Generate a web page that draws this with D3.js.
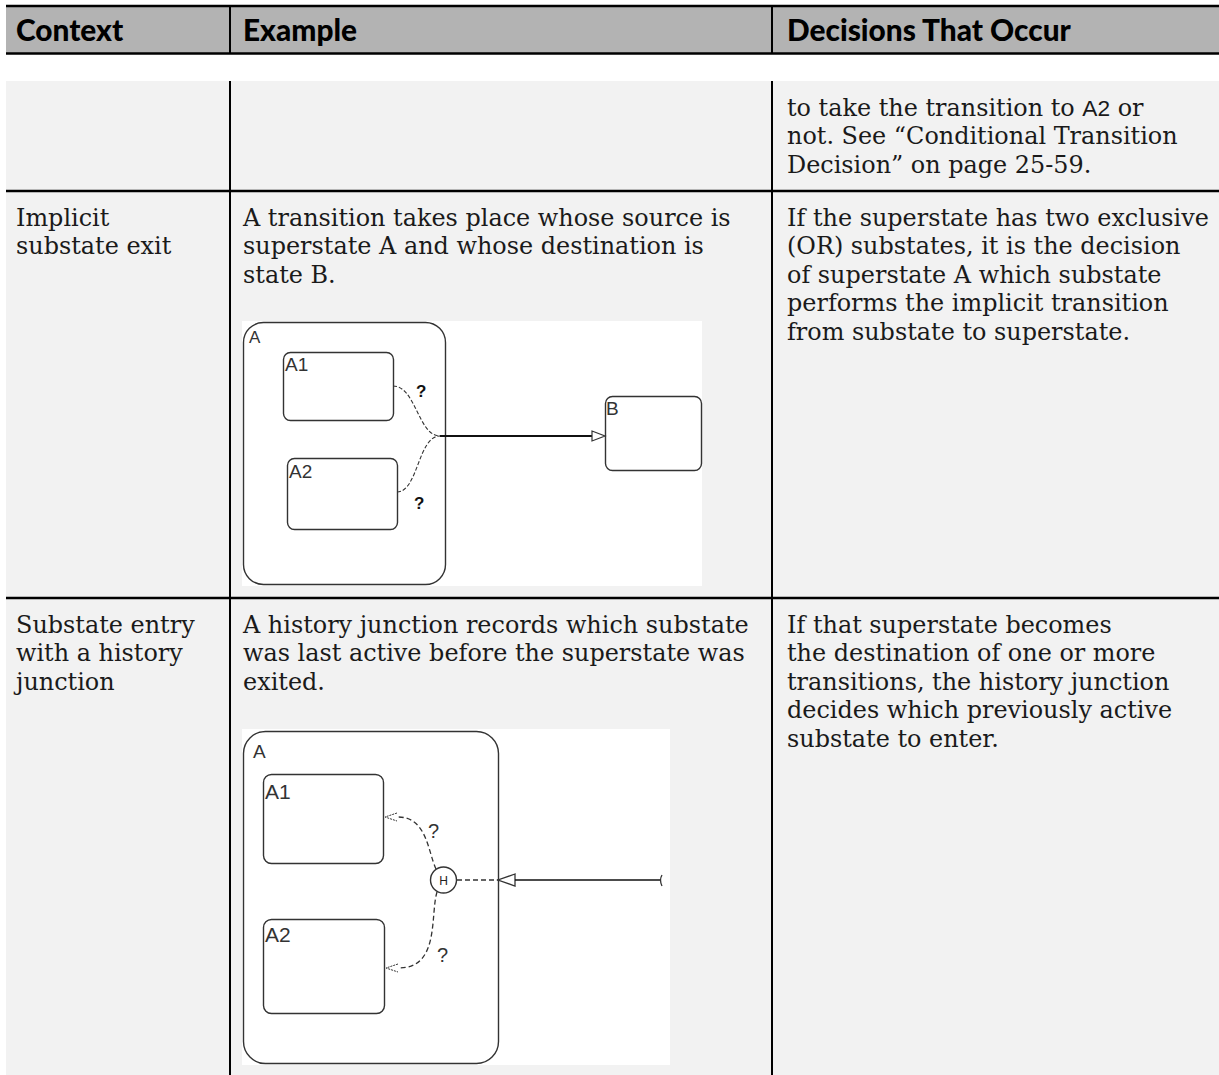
<!DOCTYPE html>
<html><head><meta charset="utf-8">
<script src="https://cdn.jsdelivr.net/npm/d3@7"></script>
<style>html,body{margin:0;padding:0;background:#fff;}svg{display:block;}</style>
</head><body>
<script>
// ---------- data ----------
const headers = ["Context", "Example", "Decisions That Occur"];
const contextText = [
  [],
  ["Implicit", "substate exit"],
  ["Substate entry", "with a history", "junction"]
];
const exampleText = [
  [],
  ["A transition takes place whose source is", "superstate A and whose destination is", "state B."],
  ["A history junction records which substate", "was last active before the superstate was", "exited."]
];
const decisionText = [
  ["to take the transition to [A2] or", "not.  See \u201cConditional Transition", "Decision\u201d on page 25-59."],
  ["If the superstate has two exclusive", "(OR) substates, it is the decision", "of superstate A which substate", "performs the implicit transition", "from substate to superstate."],
  ["If that superstate becomes", "the destination of one or more", "transitions, the history junction", "decides which previously active", "substate to enter."]
];
const exitStates = ["A", "A1", "A2", "B"];
const historyStates = ["A", "A1", "A2"];
const questionMark = "?";
const historyLabel = "H";

// ---------- layout ----------
const W = 1219, H = 1075;
const svg = d3.select("body").append("svg").attr("width", W).attr("height", H);

const colX = d3.scaleOrdinal().domain(headers).range([6, 230, 772]);
const textX = d3.scaleOrdinal().domain(headers).range([16, 243, 787]);
const rowTop = [81, 191, 598];

const serif = "'DejaVu Serif', 'Liberation Serif', serif";
const sans = "'Liberation Sans', Arial, sans-serif";
const headFont = "'Lato', 'Open Sans', sans-serif";

// fit font sizes to reference widths
function fit(family, weight, str, target) {
  const p = svg.append("text").attr("font-family", family).attr("font-weight", weight).attr("font-size", 20).text(str);
  const s = 20 * target / p.node().getComputedTextLength();
  p.remove();
  return s;
}
const serifSize = Math.min(fit(serif, 400, "A transition takes place whose source is", 509),
                           fit(serif, 400, "If the superstate has two exclusive", 422));
const headSize = fit(headFont, 900, "Decisions That Occur", 284);

// header
svg.append("rect").attr("x", 6).attr("y", 6).attr("width", W - 6).attr("height", 48).attr("fill", "#b3b3b3");
svg.append("line").attr("x1", 6).attr("x2", W).attr("y1", 6).attr("y2", 6).attr("stroke", "#000").attr("stroke-width", 2.5);
svg.append("line").attr("x1", 6).attr("x2", W).attr("y1", 53.5).attr("y2", 53.5).attr("stroke", "#000").attr("stroke-width", 2.5);
svg.selectAll("line.hsep").data(headers.slice(1)).join("line").attr("class", "hsep")
  .attr("x1", d => colX(d)).attr("x2", d => colX(d)).attr("y1", 6).attr("y2", 53)
  .attr("stroke", "#000").attr("stroke-width", 2);
svg.selectAll("text.head").data(headers).join("text").attr("class", "head")
  .attr("x", d => textX(d)).attr("y", 41)
  .attr("font-family", headFont).attr("font-weight", 900).attr("font-size", headSize)
  .attr("fill", "#000").text(d => d);

// body
svg.append("rect").attr("x", 6).attr("y", 81).attr("width", W - 6).attr("height", H - 81).attr("fill", "#f2f2f2");
svg.selectAll("line.vsep").data(headers.slice(1)).join("line").attr("class", "vsep")
  .attr("x1", d => colX(d)).attr("x2", d => colX(d)).attr("y1", 81).attr("y2", H)
  .attr("stroke", "#000").attr("stroke-width", 2);
svg.selectAll("line.rsep").data(rowTop.slice(1)).join("line").attr("class", "rsep")
  .attr("x1", 6).attr("x2", W).attr("y1", d => d).attr("y2", d => d)
  .attr("stroke", "#000").attr("stroke-width", 2.5);

const lineH = 28.4;
function drawCol(data, key) {
  data.forEach((lines, r) => {
    lines.forEach((ln, i) => {
      const t = svg.append("text").attr("x", textX(key)).attr("y", rowTop[r] + 35 + i * lineH)
        .attr("font-family", serif).attr("font-size", serifSize).attr("fill", "#1a1a1a");
      const parts = ln.split(/(\[[^\]]+\])/);
      parts.forEach(p => {
        if (!p) return;
        if (p.startsWith("[")) t.append("tspan").attr("font-family", sans).attr("font-size", serifSize * 0.95).text(p.slice(1, -1));
        else t.append("tspan").text(p);
      });
    });
  });
}
drawCol(contextText, headers[0]);
drawCol(exampleText, headers[1]);
drawCol(decisionText, headers[2]);

// ---------- diagrams ----------
const stroke = "#333";
function roundRect(g, x, y, w, h, r, sw) {
  g.append("rect").attr("x", x).attr("y", y).attr("width", w).attr("height", h).attr("rx", r).attr("ry", r)
    .attr("fill", "none").attr("stroke", stroke).attr("stroke-width", sw || 1.4);
}
function label(g, x, y, t, size, weight, color) {
  g.append("text").attr("x", x).attr("y", y).attr("font-family", sans).attr("font-size", size || 17)
    .attr("font-weight", weight || 400).attr("fill", color || "#333").text(t);
}

// diagram 1: implicit exit
const d1 = svg.append("g");
d1.append("rect").attr("x", 242).attr("y", 321).attr("width", 460).attr("height", 265).attr("fill", "#fff");
roundRect(d1, 243.5, 322.5, 202, 262, 20);
roundRect(d1, 283.5, 352.5, 110, 68, 7);
roundRect(d1, 287.5, 458.5, 110, 71, 7);
roundRect(d1, 605.5, 396.5, 96, 74, 7);
label(d1, 249, 343, exitStates[0], 17);
label(d1, 285, 371, exitStates[1], 19);
label(d1, 289, 478, exitStates[2], 19);
label(d1, 606, 415, exitStates[3], 19);
d1.append("path").attr("d", "M393,386 C416,386 418,436 440,436").attr("fill", "none")
  .attr("stroke", stroke).attr("stroke-width", 1.1).attr("stroke-dasharray", "4,2");
d1.append("path").attr("d", "M397,492 C418,492 418,436 440,436").attr("fill", "none")
  .attr("stroke", stroke).attr("stroke-width", 1.1).attr("stroke-dasharray", "4,2");
d1.append("line").attr("x1", 440).attr("x2", 592).attr("y1", 436).attr("y2", 436).attr("stroke", "#111").attr("stroke-width", 2);
d1.append("path").attr("d", "M592,431 L605,436 L592,441 Z").attr("fill", "#fff").attr("stroke", stroke).attr("stroke-width", 1.2);
label(d1, 416, 397, questionMark, 17, 700, "#111");
label(d1, 414, 509, questionMark, 17, 700, "#111");

// diagram 2: history junction
const d2 = svg.append("g");
d2.append("rect").attr("x", 242).attr("y", 729).attr("width", 428).attr("height", 336).attr("fill", "#fff");
roundRect(d2, 243.5, 731.5, 255, 332, 22);
roundRect(d2, 263.5, 774.5, 120, 89, 8);
roundRect(d2, 263.5, 919.5, 121, 94, 8);
label(d2, 253, 758, historyStates[0], 19);
label(d2, 265, 799, historyStates[1], 21);
label(d2, 265, 942, historyStates[2], 21);
d2.append("circle").attr("cx", 443.5).attr("cy", 880).attr("r", 13).attr("fill", "#fff").attr("stroke", stroke).attr("stroke-width", 1.4);
d2.append("text").attr("x", 443.5).attr("y", 884.5).attr("text-anchor", "middle").attr("font-family", sans)
  .attr("font-size", 12).attr("fill", "#222").text(historyLabel);
d2.append("path").attr("d", "M436,869 C428,852 427,817 398,817").attr("fill", "none")
  .attr("stroke", stroke).attr("stroke-width", 1.3).attr("stroke-dasharray", "5,3");
d2.append("path").attr("d", "M437,892 C430,915 440,968 399,968").attr("fill", "none")
  .attr("stroke", stroke).attr("stroke-width", 1.3).attr("stroke-dasharray", "5,3");
d2.append("path").attr("d", "M397,813 L385,817 L397,821").attr("fill", "none").attr("stroke", stroke).attr("stroke-width", 1).attr("stroke-dasharray", "2,1");
d2.append("path").attr("d", "M398,964 L386,968 L398,972").attr("fill", "none").attr("stroke", stroke).attr("stroke-width", 1).attr("stroke-dasharray", "2,1");
d2.append("line").attr("x1", 457).attr("x2", 498).attr("y1", 880).attr("y2", 880).attr("stroke", stroke).attr("stroke-width", 1.6).attr("stroke-dasharray", "5,3");
d2.append("path").attr("d", "M515,874 L498,880 L515,886 Z").attr("fill", "#fff").attr("stroke", stroke).attr("stroke-width", 1.3);
d2.append("line").attr("x1", 515).attr("x2", 661).attr("y1", 880).attr("y2", 880).attr("stroke", "#111").attr("stroke-width", 1.6);
d2.append("path").attr("d", "M662,875 Q659,880 662,886").attr("fill", "none").attr("stroke", stroke).attr("stroke-width", 1.3);
label(d2, 428, 838, questionMark, 20, 400);
label(d2, 437, 962, questionMark, 20, 400);
</script>
</body></html>
